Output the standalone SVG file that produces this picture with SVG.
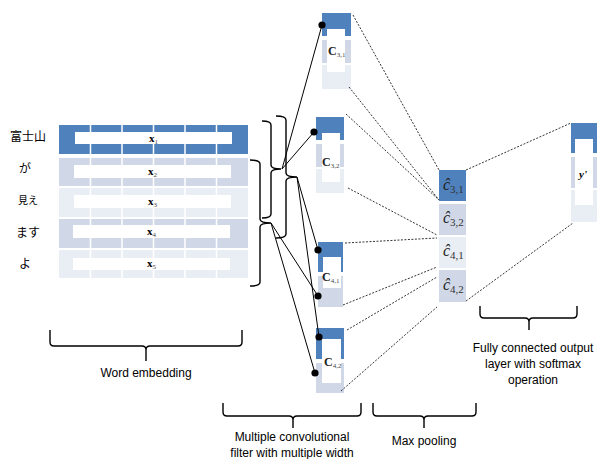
<svg xmlns="http://www.w3.org/2000/svg" width="599" height="459" viewBox="0 0 599 459">
<style>
.dk{fill:#4f81bd}.md{fill:#d0d8e8}.lt{fill:#e9edf4}.wh{fill:#fff}
.col{stroke:#fff;stroke-width:1.5}
.jp{font-family:"Noto Sans CJK JP","Noto Sans",sans-serif;font-size:12px;fill:#000}
.xl{font-family:"Liberation Serif",serif;font-weight:bold;font-size:11px;fill:#000}
.sub{font-family:"Liberation Serif",serif;font-weight:normal;font-size:7px;fill:#444}
.cl{font-family:"Liberation Serif",serif;font-weight:bold;font-size:12px;fill:#222}
.ch{font-family:"Liberation Serif",serif;font-style:italic;font-size:16px;fill:#222}
.chs{font-family:"Liberation Serif",serif;font-style:normal;font-size:11px;fill:#333}
.lab{font-family:"Liberation Sans",Arial,sans-serif;font-size:12px;fill:#000;text-anchor:middle}
.br{fill:none;stroke:#000;stroke-width:1.4}
.sl{stroke:#000;stroke-width:1;fill:none}
.ds{stroke:#000;stroke-width:0.8;stroke-dasharray:2 1.5;fill:none}
</style>

<g id="labels-jp">
<text class="jp" x="10" y="141">富士山</text>
<text class="jp" x="19" y="173">が</text>
<text class="jp" x="18" y="204" style="font-size:10px">見え</text>
<text class="jp" x="16" y="237">ます</text>
<text class="jp" x="19" y="268">よ</text>
</g>

<g id="embedding">
<rect class="dk" x="59" y="125" width="189" height="29"/>
<rect class="md" x="59" y="158" width="189" height="28"/>
<rect class="lt" x="59" y="188" width="189" height="29"/>
<rect class="md" x="59" y="219" width="189" height="29"/>
<rect class="lt" x="59" y="250" width="189" height="28"/>
<g class="col">
<line x1="90.5" y1="125" x2="90.5" y2="278"/>
<line x1="122" y1="125" x2="122" y2="278"/>
<line x1="153.5" y1="125" x2="153.5" y2="278"/>
<line x1="185" y1="125" x2="185" y2="278"/>
<line x1="216.5" y1="125" x2="216.5" y2="278"/>
</g>
<rect class="wh" x="75" y="132" width="157" height="12"/>
<rect class="wh" x="74" y="165" width="157" height="13"/>
<rect class="wh" x="74" y="195" width="157" height="13"/>
<rect class="wh" x="73" y="225" width="157" height="13"/>
<rect class="wh" x="73" y="258" width="157" height="12"/>
<text class="xl" x="149" y="142">x<tspan class="sub" dy="2">1</tspan></text>
<text class="xl" x="148" y="175">x<tspan class="sub" dy="2">2</tspan></text>
<text class="xl" x="148" y="205">x<tspan class="sub" dy="2">3</tspan></text>
<text class="xl" x="147" y="235">x<tspan class="sub" dy="2">4</tspan></text>
<text class="xl" x="147" y="267">x<tspan class="sub" dy="2">5</tspan></text>
</g>

<g id="c31">
<rect class="dk" x="322" y="13" width="29" height="23"/>
<rect class="md" x="322" y="40" width="29" height="23"/>
<rect class="lt" x="322" y="65" width="29" height="24"/>
<rect class="wh" x="327" y="29" width="18" height="43"/>
<text class="cl" x="328" y="55">C<tspan class="sub" dy="2">3,1</tspan></text>
</g>
<g id="c32">
<rect class="dk" x="316" y="117" width="28" height="23"/>
<rect class="md" x="316" y="144" width="28" height="23"/>
<rect class="lt" x="316" y="169" width="28" height="24"/>
<rect class="wh" x="322" y="133" width="18" height="49"/>
<text class="cl" x="322" y="166">C<tspan class="sub" dy="2">3,2</tspan></text>
</g>
<g id="c41">
<rect class="dk" x="318" y="242" width="25" height="30"/>
<rect class="md" x="318" y="276" width="25" height="31"/>
<rect class="wh" x="323" y="257" width="18" height="31"/>
<text class="cl" x="322" y="281">C<tspan class="sub" dy="2">4,1</tspan></text>
</g>
<g id="c42">
<rect class="dk" x="316" y="328" width="28" height="31"/>
<rect class="md" x="316" y="363" width="28" height="30"/>
<rect class="wh" x="322" y="339" width="19" height="44"/>
<text class="cl" x="324" y="366">C<tspan class="sub" dy="2">4,2</tspan></text>
</g>

<g id="pool">
<rect class="dk" x="439" y="170" width="27" height="31"/>
<rect class="md" x="439" y="204" width="27" height="31"/>
<rect class="lt" x="439" y="237" width="27" height="31"/>
<rect class="md" x="439" y="270" width="27" height="32"/>
<text class="ch" x="443" y="190">ĉ<tspan class="chs" dy="3">3,1</tspan></text>
<text class="ch" x="443" y="223">ĉ<tspan class="chs" dy="3">3,2</tspan></text>
<text class="ch" x="443" y="256">ĉ<tspan class="chs" dy="3">4,1</tspan></text>
<text class="ch" x="443" y="290">ĉ<tspan class="chs" dy="3">4,2</tspan></text>
</g>

<g id="output">
<rect class="dk" x="571" y="123" width="26" height="30"/>
<rect class="md" x="571" y="157" width="26" height="31"/>
<rect class="lt" x="571" y="190" width="26" height="32"/>
<rect class="wh" x="575" y="139" width="18" height="66"/>
<text x="579" y="178" style="font-family:'Liberation Serif',serif;font-style:italic;font-weight:bold;font-size:11px">y'</text>
</g>

<g id="connectors">
<path class="br" d="M262,121 Q271,121 271,125 L271,165 Q271,169 281,169 Q271,169 271,173 L271,214 Q271,218 262,218"/>
<path class="br" d="M276,116 Q286,116 286,120 L286,173 Q286,177 297,177 Q286,177 286,181 L286,234 Q286,238 276,238"/>
<path class="br" d="M250,160 Q260,160 260,164 L260,219 Q260,223 271,223 Q260,223 260,227 L260,282 Q260,286 250,286"/>
<line class="sl" x1="282" y1="169" x2="322" y2="25"/>
<line class="sl" x1="282" y1="169" x2="314" y2="132"/>
<line class="sl" x1="297" y1="177" x2="318" y2="250"/>
<line class="sl" x1="297" y1="177" x2="319" y2="337"/>
<line class="sl" x1="271" y1="223" x2="318" y2="296"/>
<line class="sl" x1="271" y1="223" x2="315" y2="373"/>
<circle cx="322" cy="25" r="3.6"/>
<circle cx="314" cy="132" r="3.6"/>
<circle cx="318" cy="250" r="3.6"/>
<circle cx="318" cy="296" r="3.6"/>
<circle cx="319" cy="337" r="3.6"/>
<circle cx="315" cy="373" r="3.6"/>
<line class="ds" x1="353" y1="15" x2="439" y2="170"/>
<line class="ds" x1="349" y1="87" x2="439" y2="200"/>
<line class="ds" x1="346" y1="114" x2="439" y2="200"/>
<line class="ds" x1="348" y1="188" x2="437" y2="235"/>
<line class="ds" x1="345" y1="243" x2="437" y2="238"/>
<line class="ds" x1="343" y1="305" x2="437" y2="267"/>
<line class="ds" x1="347" y1="330" x2="437" y2="277"/>
<line class="ds" x1="341" y1="391" x2="437" y2="307"/>
<line class="ds" x1="466" y1="170" x2="571" y2="123"/>
<line class="ds" x1="466" y1="301" x2="573" y2="223"/>
<path class="br" d="M50,330 L50,342 Q50,346 54,346 L142,346 Q146,346 146,350 L146,361 M146,350 Q146,346 150,346 L238,346 Q242,346 242,342 L242,330"/>
<path class="br" d="M223,403 L223,412 Q223,416 227,416 L289,416 Q293,416 293,420 L293,428 M293,420 Q293,416 297,416 L357,416 Q361,416 361,412 L361,403"/>
<path class="br" d="M373,403 L373,412 Q373,416 377,416 L420,416 Q424,416 424,420 L424,428 M424,420 Q424,416 428,416 L472,416 Q476,416 476,412 L476,403"/>
<path class="br" d="M480,306 L480,314 Q480,318 484,318 L525,318 Q529,318 529,322 L529,330 M529,322 Q529,318 533,318 L573,318 Q577,318 577,314 L577,306"/>
</g>

<g id="bottom-labels">
<text class="lab" x="146" y="377">Word embedding</text>
<text class="lab" x="292" y="441">Multiple convolutional</text>
<text class="lab" x="292" y="457">filter with multiple width</text>
<text class="lab" x="424" y="445">Max pooling</text>
<text class="lab" x="533" y="352">Fully connected output</text>
<text class="lab" x="533" y="368">layer with softmax</text>
<text class="lab" x="533" y="384">operation</text>
</g>
</svg>
